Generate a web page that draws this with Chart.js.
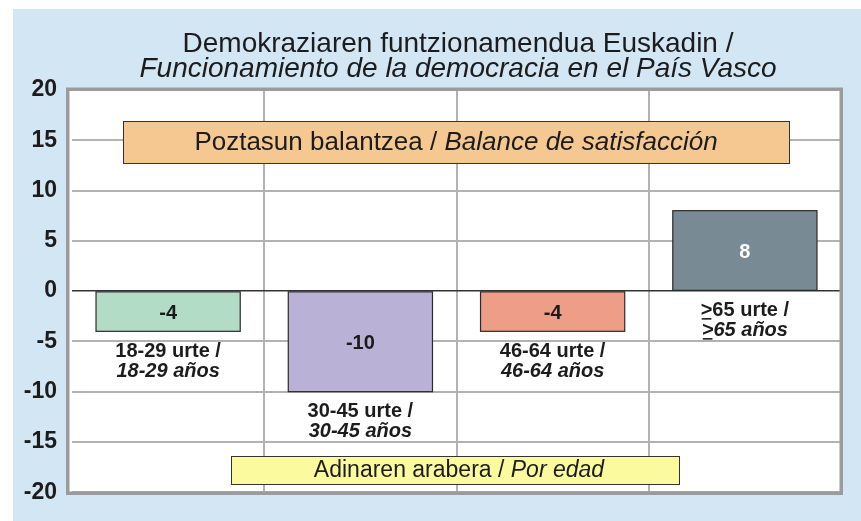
<!DOCTYPE html>
<html>
<head>
<meta charset="utf-8">
<style>
  html, body { margin: 0; padding: 0; background: #ffffff; }
  canvas { display: block; }
</style>
<script src="https://cdn.jsdelivr.net/npm/chart.js@4.4.1/dist/chart.umd.min.js"></script>
</head>
<body>
<canvas id="c" width="861" height="521"></canvas>
<script>
// ---- Data ----
const categories = ['18-29', '30-45', '46-64', '>65'];
const values = [-4, -10, -4, 8];
const labelsEu = ['18-29 urte /', '30-45 urte /', '46-64 urte /', '>65 urte /'];
const labelsEs = ['18-29 años', '30-45 años', '46-64 años', '>65 años'];
const barColors = ['#b3dcc7', '#bab2d6', '#ee9d86', '#788a93'];
const valueTextColors = ['#1a1a1a', '#1a1a1a', '#1a1a1a', '#ffffff'];
const yMin = -20, yMax = 20, yStep = 5;
const titleLine1 = 'Demokraziaren funtzionamendua Euskadin /';
const titleLine2 = 'Funcionamiento de la democracia en el País Vasco';
const boxTopEu = 'Poztasun balantzea / ';
const boxTopEs = 'Balance de satisfacción';
const boxBottomEu = 'Adinaren arabera / ';
const boxBottomEs = 'Por edad';

const FONT = '"Liberation Sans", Arial, Helvetica, sans-serif';
const TEXT = '#1c1c1c';

function drawMixed(ctx, parts, cx, cy) {
  let total = 0;
  parts.forEach(p => { ctx.font = p.font; p.w = ctx.measureText(p.text).width; total += p.w; });
  let x = cx - total / 2;
  ctx.textAlign = 'left';
  ctx.textBaseline = 'middle';
  parts.forEach(p => { ctx.font = p.font; ctx.fillText(p.text, x, cy); x += p.w; });
}

// text with an underlined leading '>' (meaning "greater or equal")
function drawLabel(ctx, text, font, cx, cy) {
  ctx.font = font;
  ctx.textAlign = 'center';
  ctx.textBaseline = 'middle';
  ctx.fillText(text, cx, cy);
  if (text.charAt(0) === '>') {
    const w = ctx.measureText(text).width;
    const gw = ctx.measureText('>').width;
    const x0 = cx - w / 2;
    ctx.save();
    ctx.strokeStyle = TEXT;
    ctx.lineWidth = 1.6;
    ctx.beginPath();
    ctx.moveTo(x0 + 1, cy + 8.5);
    ctx.lineTo(x0 + gw - 1, cy + 8.5);
    ctx.stroke();
    ctx.restore();
  }
}

const decor = {
  id: 'decor',
  beforeDraw(chart) {
    const ctx = chart.ctx;
    ctx.save();
    ctx.fillStyle = '#ffffff';
    ctx.fillRect(0, 0, chart.width, chart.height);
    ctx.fillStyle = '#d3e6f4';
    ctx.fillRect(13, 9, chart.width - 13, chart.height - 9);
    ctx.fillStyle = '#ffffff';
    ctx.fillRect(68, 89, 773, 404);
    ctx.restore();
  },
  afterDatasetsDraw(chart) {
    const ctx = chart.ctx;
    const meta = chart.getDatasetMeta(0);
    ctx.save();
    meta.data.forEach((bar, i) => {
      const top = Math.min(bar.y, bar.base);
      const bottom = Math.max(bar.y, bar.base);
      // crisp dark outline like the reference
      ctx.strokeStyle = '#2a2a2a';
      ctx.lineWidth = 1.2;
      ctx.strokeRect(bar.x - bar.width / 2, top, bar.width, bottom - top);
      ctx.fillStyle = valueTextColors[i];
      ctx.font = 'bold 20px ' + FONT;
      ctx.textAlign = 'center';
      ctx.textBaseline = 'middle';
      ctx.fillText(String(values[i]), bar.x, (top + bottom) / 2 + 2);
      ctx.fillStyle = TEXT;
      const ly = bottom + 20;
      drawLabel(ctx, labelsEu[i], 'bold 20px ' + FONT, bar.x, ly);
      drawLabel(ctx, labelsEs[i], 'italic bold 20px ' + FONT, bar.x, ly + 20);
    });
    // plot border
    ctx.strokeStyle = '#9b9b9b';
    ctx.lineWidth = 3.5;
    ctx.strokeRect(67.75, 89.25, 773.5, 404);
    // orange box
    ctx.fillStyle = '#f5c892';
    ctx.fillRect(123, 121, 666, 42);
    ctx.strokeStyle = '#333333';
    ctx.lineWidth = 1;
    ctx.strokeRect(123.5, 121.5, 666, 42);
    ctx.fillStyle = TEXT;
    drawMixed(ctx, [
      { text: boxTopEu, font: '26px ' + FONT },
      { text: boxTopEs, font: 'italic 26px ' + FONT }
    ], 456, 143);
    // yellow box
    ctx.fillStyle = '#fcfa9e';
    ctx.fillRect(231, 456, 448, 28);
    ctx.strokeStyle = '#333333';
    ctx.strokeRect(231.5, 456.5, 448, 28);
    ctx.fillStyle = TEXT;
    drawMixed(ctx, [
      { text: boxBottomEu, font: '23px ' + FONT },
      { text: boxBottomEs, font: 'italic 23px ' + FONT }
    ], 459, 471);
    // title
    ctx.fillStyle = TEXT;
    ctx.textAlign = 'center';
    ctx.textBaseline = 'alphabetic';
    ctx.font = '28px ' + FONT;
    ctx.fillText(titleLine1, 458, 52);
    ctx.font = 'italic 28px ' + FONT;
    ctx.fillText(titleLine2, 458, 77);
    ctx.restore();
  }
};

new Chart(document.getElementById('c'), {
  type: 'bar',
  data: {
    labels: categories,
    datasets: [{
      data: values,
      backgroundColor: barColors,
      borderWidth: 0,
      barPercentage: 0.75,
      categoryPercentage: 1
    }]
  },
  options: {
    responsive: false,
    devicePixelRatio: 1,
    animation: false,
    layout: { padding: { top: 90, left: 0, right: 20, bottom: 28 } },
    plugins: { legend: { display: false }, tooltip: { enabled: false }, title: { display: false } },
    scales: {
      x: {
        offset: true,
        ticks: { display: false },
        border: { display: false },
        grid: {
          offset: true,
          drawTicks: false,
          lineWidth: 2,
          color: (c) => (c.index === 0 || c.index === categories.length) ? 'rgba(0,0,0,0)' : '#b2b2b2'
        },
        afterFit: (s) => { s.height = 0; }
      },
      y: {
        min: yMin,
        max: yMax,
        ticks: {
          stepSize: yStep,
          padding: 15,
          color: TEXT,
          font: { family: FONT, size: 23, weight: 'bold' }
        },
        border: { display: false },
        grid: {
          drawTicks: false,
          lineWidth: (c) => c.tick && c.tick.value === 0 ? 1.5 : 2,
          color: (c) => c.tick && c.tick.value === 0 ? '#333333' : '#b2b2b2'
        },
        afterFit: (s) => { s.width = 72; }
      }
    }
  },
  plugins: [decor]
});
</script>
</body>
</html>
